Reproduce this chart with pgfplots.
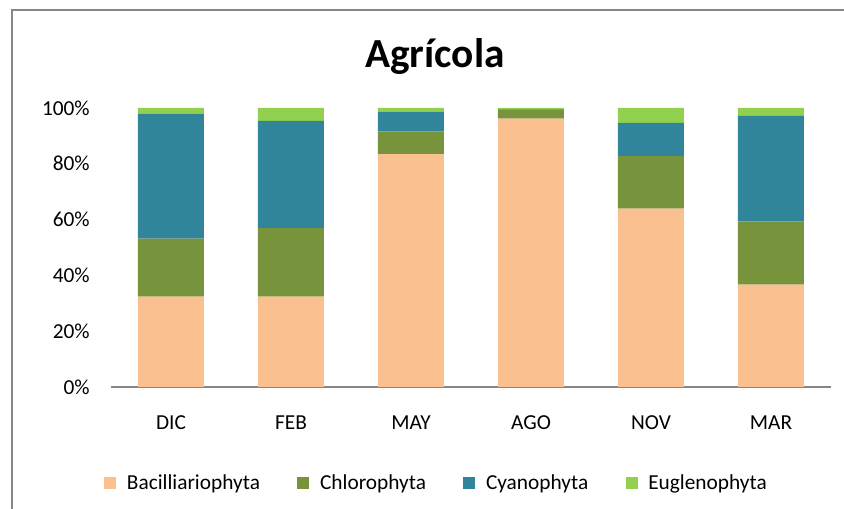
\documentclass[border=0pt]{standalone}
\usepackage{fontspec}
\setmainfont{Carlito}
\usepackage{pgfplots}
\pgfplotsset{compat=1.18}
\definecolor{bacil}{RGB}{250,192,144}
\definecolor{chloro}{RGB}{119,147,60}
\definecolor{cyano}{RGB}{49,133,155}
\definecolor{eugle}{RGB}{146,208,80}
\definecolor{axisgray}{RGB}{134,134,134}

\begin{document}
\begin{tikzpicture}
\useasboundingbox (-83.25pt,-91.5pt) rectangle (549.75pt,290.25pt);
\begin{axis}[
    at={(0,0)}, anchor=south west,
    scale only axis,
    width=540pt, height=209.25pt,
    ybar stacked,
    bar width=49.5pt,
    xmin=-0.5, xmax=5.5,
    ymin=0, ymax=100,
    xtick={0,1,2,3,4,5},
    xticklabels={DIC,FEB,MAY,AGO,NOV,MAR},
    ytick={0,20,40,60,80,100},
    yticklabel={\pgfmathprintnumber{\tick}\%},
    /pgf/number format/assume math mode=true,
    major tick length=0pt,
    axis lines*=left,
    x axis line style={draw=axisgray, line width=1.3pt, -},
    y axis line style={draw=none},
    ticklabel style={font=\fontsize{16pt}{19pt}\selectfont},
    xticklabel style={anchor=base, inner sep=0pt, yshift=-32.25pt},
    yticklabel style={anchor=east, inner sep=0pt, xshift=-15.75pt},
    clip=false,
    legend style={
        at={(axis description cs:0.4526,-0.344)}, anchor=center,
        draw=none, font=\fontsize{16pt}{19pt}\selectfont,
        /tikz/every odd column/.append style={column sep=6pt},
        /tikz/every even column/.append style={column sep=26pt},
    },
    legend columns=4,
    legend image code/.code={\fill[#1] (0pt,-4.5pt) rectangle (9pt,4.5pt);},
]
\addplot[fill=bacil, draw=none] coordinates {
    (0,32.4) (1,32.4) (2,83.5) (3,96.2) (4,63.9) (5,36.7)
};
\addplot[fill=chloro, draw=none] coordinates {
    (0,20.8) (1,24.5) (2,8.1) (3,3.1) (4,18.9) (5,22.7)
};
\addplot[fill=cyano, draw=none] coordinates {
    (0,44.8) (1,38.5) (2,7.1) (3,0.2) (4,11.9) (5,37.8)
};
\addplot[fill=eugle, draw=none] coordinates {
    (0,2.0) (1,4.6) (2,1.3) (3,0.5) (4,5.3) (5,2.8)
};
\legend{Bacilliariophyta,Chlorophyta,Cyanophyta,Euglenophyta}
\end{axis}
\node[anchor=base, font=\fontsize{31pt}{36pt}\selectfont\bfseries] at (243pt,239.25pt) {Agrícola};
\draw[axisgray, line width=1.2pt] (-74.25pt,-100pt) -- (-74.25pt,282.75pt) -- (560pt,282.75pt);
\end{tikzpicture}
\end{document}
